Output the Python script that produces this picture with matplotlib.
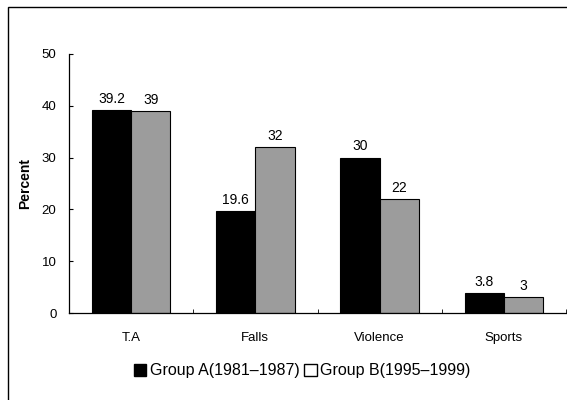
import matplotlib
matplotlib.use("Agg")
import matplotlib.pyplot as plt
from matplotlib.patches import Rectangle, Patch
import numpy as np

categories = ["T.A", "Falls", "Violence", "Sports"]
group_a = [39.2, 19.6, 30, 3.8]
group_b = [39, 32, 22, 3]
labels_a = ["39.2", "19.6", "30", "3.8"]
labels_b = ["39", "32", "22", "3"]
series_names = ["Group A(1981\u20131987)", "Group B(1995\u20131999)"]
yticks = [0, 10, 20, 30, 40, 50]

plt.rcParams['font.family'] = ['Liberation Sans', 'DejaVu Sans']

fig = plt.figure(figsize=(5.67, 4.0), dpi=100)
ax = fig.add_axes([69/567, 1-313/400, (566-69)/567, (313-54)/400])

x = np.arange(len(categories))
w = 0.316
ba = ax.bar(x - w/2, group_a, width=w, color="black", edgecolor="black", linewidth=0.8)
bb = ax.bar(x + w/2, group_b, width=w, color="#9c9c9c", edgecolor="black", linewidth=0.8)

for rect, lab in zip(ba, labels_a):
    ax.text(rect.get_x() + rect.get_width()/2, rect.get_height() + 0.8, lab,
            ha="center", va="bottom", fontsize=10)
for rect, lab in zip(bb, labels_b):
    ax.text(rect.get_x() + rect.get_width()/2, rect.get_height() + 0.8, lab,
            ha="center", va="bottom", fontsize=10)

ax.set_xlim(-0.50, 3.43)
ax.set_ylim(0, 50)
ax.set_yticks(yticks)
ax.set_yticklabels([str(t) for t in yticks], fontsize=9.5)
ax.set_xticks(x)
ax.set_xticklabels(categories, fontsize=9.5)
ax.tick_params(axis="x", length=0, pad=14)
ax.tick_params(axis="y", direction="in", length=3, pad=9)
ax.set_xticks(np.arange(len(categories)) + 0.5, minor=True)
ax.tick_params(axis="x", which="minor", direction="in", length=3)
ax.spines["top"].set_visible(False)
ax.spines["right"].set_visible(False)
ax.spines["left"].set_linewidth(0.9)
ax.spines["bottom"].set_linewidth(0.9)
ax.set_ylabel("Percent", fontsize=10, fontweight="bold", labelpad=7)

handles = [Patch(facecolor="black", edgecolor="black"),
           Patch(facecolor="white", edgecolor="black")]
fig.legend(handles, series_names, loc="center", bbox_to_anchor=(302/567, 1-371/400),
           ncol=2, frameon=False, fontsize=11.5, handlelength=0.8, handleheight=0.8,
           handletextpad=0.2, columnspacing=0.3)

fig.patches.append(Rectangle((8/567, -0.05), 1.1, 1-7/400+0.05, transform=fig.transFigure,
                             fill=False, edgecolor="black", linewidth=1.0))

fig.savefig("out.png", dpi=100)
